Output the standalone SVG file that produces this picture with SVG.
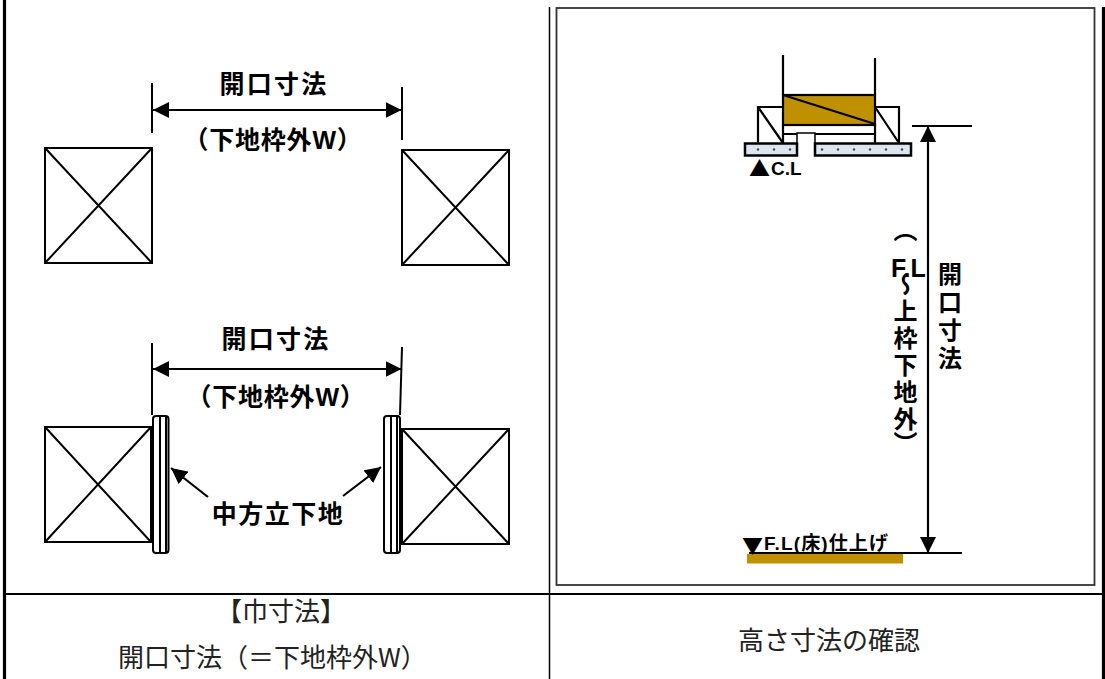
<svg xmlns="http://www.w3.org/2000/svg" width="1105" height="679" viewBox="0 0 1105 679">
<style>
text{font-family:"Liberation Sans","Noto Sans CJK JP",sans-serif;fill:#000;font-weight:700}
.b{font-size:25px;letter-spacing:2.200px;text-anchor:middle}
.s{font-size:25px;letter-spacing:.8px;text-anchor:middle}
.m{font-size:25px;letter-spacing:1.500px;text-anchor:middle}
.c{font-size:26px;font-weight:400;fill:#222;font-family:"Noto Sans CJK JP",sans-serif}
.v{font-size:24px;letter-spacing:3px;writing-mode:vertical-rl;font-family:"Noto Sans CJK JP",sans-serif}
.g{font-size:19px}
.k{font-size:21px;font-family:"Noto Sans CJK JP",sans-serif}
.l{stroke:#000;fill:none;stroke-width:2}
.t{stroke:#000;fill:none;stroke-width:2.200}
.w{stroke:#000;fill:#fff;stroke-width:2}
.p{fill:#dce6f1;stroke:#000;stroke-width:2.500}
.d{fill:#444}
</style>
<defs>
<marker id="a" viewBox="0 0 16 16" refX="16" refY="8" markerWidth="16" markerHeight="16" markerUnits="userSpaceOnUse" orient="auto-start-reverse"><path d="M0 0L16 8L0 16Z" fill="#000"/></marker>
</defs>
<rect width="1105" height="679" fill="#fff"/>
<g id="table">
<path d="M4.500 0V679" stroke="#000" stroke-width="3.200"/>
<path d="M1103.500 7V679" stroke="#000" stroke-width="3.200"/>
<path d="M549.500 7V679" stroke="#000" stroke-width="1.500"/>
<path d="M6 594H1102" stroke="#000" stroke-width="2"/>
<rect x="556.500" y="8" width="538" height="577" fill="none" stroke="#333" stroke-width="1.800"/>
</g>
<g id="top-left-post"><rect x="45" y="148" width="107" height="115" class="l"/><path d="M45 148L152 263M152 148L45 263" class="l"/></g>
<g id="top-right-post"><rect x="402" y="150" width="107" height="115" class="l"/><path d="M402 150L509 265M509 150L402 265" class="l"/></g>
<g id="bottom-left-post"><rect x="45" y="427" width="106" height="115" class="l"/><path d="M45 427L151 542M151 427L45 542" class="l"/></g>
<g id="bottom-right-post"><rect x="402" y="429" width="107" height="115" class="l"/><path d="M402 429L509 544M509 429L402 544" class="l"/></g>
<g id="left-mullion"><rect x="153" y="416" width="15.500" height="137" rx="3" class="w"/><path d="M160 416V553M166 416V553" stroke="#000" stroke-width="2"/></g>
<g id="right-mullion"><rect x="384" y="416" width="16" height="137" rx="3" class="w"/><path d="M391 416V553M397 416V553" stroke="#000" stroke-width="2"/></g>
<g id="connectors">
<path d="M152 83V133M402 87V140M152 343V415M402 347L400 415" class="l"/>
<path d="M153 110H401.500" class="t" marker-start="url(#a)" marker-end="url(#a)"/>
<path d="M153 369H401.500" class="t" marker-start="url(#a)" marker-end="url(#a)"/>
<path d="M208 497L171 468" class="t" marker-end="url(#a)"/>
<path d="M343 496L381 467" class="t" marker-end="url(#a)"/>
<path d="M928 126V553" class="t" marker-start="url(#a)" marker-end="url(#a)"/>
<path d="M912 126L972 126" class="t"/>
<path d="M749 553L962 553" class="t"/>
</g>
<g id="labels">
<text x="274" y="93" class="b">開口寸法</text>
<text x="273" y="149" class="s">（下地枠外W）</text>
<text x="276" y="348" class="b">開口寸法</text>
<text x="276" y="406" class="s">（下地枠外W）</text>
<text x="278" y="523" class="m">中方立下地</text>
<text x="216" y="621" class="c">【巾寸法】</text>
<text x="118" y="667" class="c">開口寸法（＝下地枠外W）</text>
<text x="738" y="650" class="c">高さ寸法の確認</text>
</g>
<g id="section-detail">
<path d="M783 55V95M875 58V95" class="t"/>
<rect x="783" y="95" width="92" height="30" fill="#bf9000" stroke="#000" stroke-width="2.200"/>
<path d="M783 95L875 124" class="t"/>
<path d="M783 107H758V143M875 107H899V143" class="t"/>
<path d="M758 107L783 143M875 107L899 143" class="t"/>
<path d="M783 125V143M875 125V143M783 134H797M815 134H875" class="t"/>
<path d="M797 143V133H815V143" stroke="#000" stroke-width="1.500" fill="none"/>
<rect x="745" y="143.500" width="52" height="12" class="p"/>
<rect x="815" y="143.500" width="96" height="12" class="p"/>
<g class="d"><circle cx="758" cy="149.500" r="1.200"/><circle cx="774" cy="149.500" r="1.200"/><circle cx="790" cy="149.500" r="1.200"/><circle cx="822" cy="149.500" r="1.200"/><circle cx="838" cy="149.500" r="1.200"/><circle cx="854" cy="149.500" r="1.200"/><circle cx="870" cy="149.500" r="1.200"/><circle cx="886" cy="149.500" r="1.200"/><circle cx="902" cy="149.500" r="1.200"/></g>
<text x="749" y="175.500" class="k">▲</text>
<text x="771" y="175" class="g">C.L</text>
</g>
<g id="floor">
<rect x="747" y="554" width="156" height="9.500" fill="#bf9000"/>
<text x="742" y="552.500" class="k">▼</text>
<text x="764" y="550" class="g" textLength="124" lengthAdjust="spacing">F.L(床)仕上げ</text>
</g>
<g id="height-labels">
<text x="950" y="262" class="v" style="letter-spacing:4px">開口寸法</text>
<text x="905.500" y="218" class="v">（</text>
<text x="891" y="277" font-size="25">F.L</text>
<text x="905.500" y="272" class="v">～上枠下地外</text>
<text x="905.500" y="431" class="v">）</text>
</g>
</svg>
